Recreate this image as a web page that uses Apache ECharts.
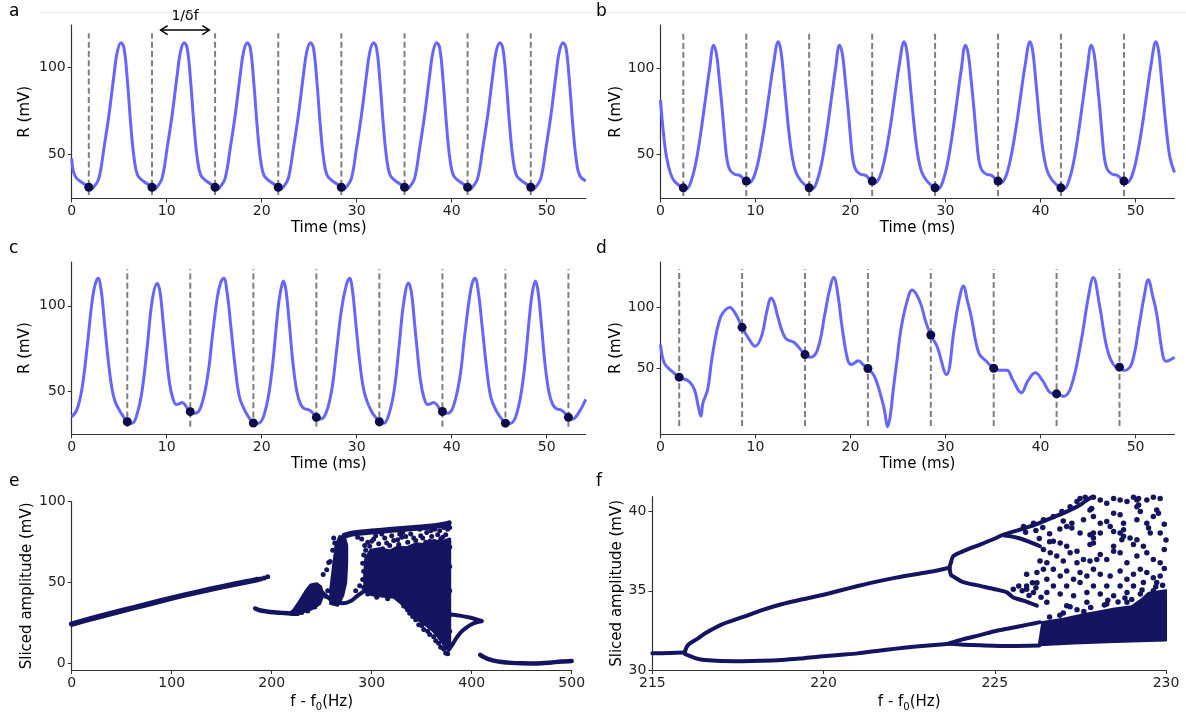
<!DOCTYPE html>
<html><head><meta charset="utf-8">
<script src="https://cdn.jsdelivr.net/npm/echarts@6/dist/echarts.min.js"></script>
<style>html,body{margin:0;padding:0;background:#fff}#c{width:1186px;height:713px}</style>
</head><body><div id="c"></div>
<script>
// ---------- tick labels ----------
const timeTicks = [0,10,20,30,40,50];
const rTicks = [50,100];
const eXTicks = [0,100,200,300,400,500];
const eYTicks = [0,50,100];
const fXTicks = [215,220,225,230];
const fYTicks = [30,35,40];

// ---------- panel a ----------
const aCurve = [[0,47.8],[0.18,40.2],[0.53,36.4],[1.24,33.5],
[1.80,31.3],[2.10,30.3],[2.35,31.6],[2.86,36.4],[3.39,53.5],[3.92,72.6],[4.45,95.4],[4.80,108.7],[5.19,113.9],[5.51,110.7],[5.87,91.6],[6.22,66.9],[6.57,47.8],[6.93,38.3],[7.46,35.1],[7.99,33.2],
[8.45,31.3],[8.75,30.3],[9.00,31.6],[9.51,36.4],[10.04,53.5],[10.57,72.6],[11.10,95.4],[11.45,108.7],[11.84,113.9],[12.16,110.7],[12.52,91.6],[12.87,66.9],[13.22,47.8],[13.58,38.3],[14.11,35.1],[14.64,33.2],
[15.09,31.3],[15.39,30.3],[15.64,31.6],[16.15,36.4],[16.68,53.5],[17.21,72.6],[17.74,95.4],[18.09,108.7],[18.48,113.9],[18.80,110.7],[19.16,91.6],[19.51,66.9],[19.86,47.8],[20.22,38.3],[20.75,35.1],[21.28,33.2],
[21.74,31.3],[22.04,30.3],[22.29,31.6],[22.80,36.4],[23.33,53.5],[23.86,72.6],[24.39,95.4],[24.74,108.7],[25.13,113.9],[25.45,110.7],[25.81,91.6],[26.16,66.9],[26.51,47.8],[26.87,38.3],[27.40,35.1],[27.93,33.2],
[28.38,31.3],[28.68,30.3],[28.93,31.6],[29.44,36.4],[29.97,53.5],[30.50,72.6],[31.03,95.4],[31.38,108.7],[31.77,113.9],[32.09,110.7],[32.45,91.6],[32.80,66.9],[33.15,47.8],[33.51,38.3],[34.04,35.1],[34.57,33.2],
[35.03,31.3],[35.33,30.3],[35.58,31.6],[36.09,36.4],[36.62,53.5],[37.15,72.6],[37.68,95.4],[38.03,108.7],[38.42,113.9],[38.74,110.7],[39.10,91.6],[39.45,66.9],[39.80,47.8],[40.16,38.3],[40.69,35.1],[41.22,33.2],
[41.67,31.3],[41.97,30.3],[42.22,31.6],[42.73,36.4],[43.26,53.5],[43.79,72.6],[44.32,95.4],[44.67,108.7],[45.06,113.9],[45.38,110.7],[45.74,91.6],[46.09,66.9],[46.44,47.8],[46.80,38.3],[47.33,35.1],[47.86,33.2],
[48.32,31.3],[48.62,30.3],[48.87,31.6],[49.38,36.4],[49.91,53.5],[50.44,72.6],[50.97,95.4],[51.32,108.7],[51.71,113.9],[52.03,110.7],[52.39,91.6],[52.74,66.9],[53.09,47.8],[53.45,38.3],[54.1,34.9]];
const aSliceTimes = [1.80,8.45,15.09,21.74,28.38,35.03,41.67,48.32];
const aSliceVals = [31.3,31.3,31.3,31.3,31.3,31.3,31.3,31.3];
const aDashRange = [26.9,119.3];
const aArrow = [[9.36,14.49,121.1,128.7]];

// ---------- panel b ----------
const bCurve = [[0,81.6],[0.28,64.1],[0.63,48.6],[1.05,39],[1.51,34.1],
[2.40,30.6],[2.75,30.2],[3.25,35],[3.75,46],[4.25,63],[4.75,83],[5.15,99],[5.60,113.5],[5.90,108],[6.20,93],[6.50,76],[6.75,60],[7.00,47],[7.30,41],[7.80,38.5],[8.30,38],[8.70,36],
[9.03,34.5],[9.33,33.6],[9.83,37],[10.33,47],[10.88,64],[11.43,85],[11.88,102],[12.40,115.5],[12.68,110],[12.98,94],[13.28,76],[13.58,60],[13.88,48],[14.23,40],[14.73,35],[15.18,32.5],
[15.65,30.6],[16.00,30.2],[16.50,35],[17.00,46],[17.50,63],[18.00,83],[18.40,99],[18.85,113.5],[19.15,108],[19.45,93],[19.75,76],[20.00,60],[20.25,47],[20.55,41],[21.05,38.5],[21.55,38],[21.95,36],
[22.28,34.5],[22.58,33.6],[23.08,37],[23.58,47],[24.13,64],[24.68,85],[25.13,102],[25.65,115.5],[25.93,110],[26.23,94],[26.53,76],[26.83,60],[27.13,48],[27.48,40],[27.98,35],[28.43,32.5],
[28.90,30.6],[29.25,30.2],[29.75,35],[30.25,46],[30.75,63],[31.25,83],[31.65,99],[32.10,113.5],[32.40,108],[32.70,93],[33.00,76],[33.25,60],[33.50,47],[33.80,41],[34.30,38.5],[34.80,38],[35.20,36],
[35.53,34.5],[35.83,33.6],[36.33,37],[36.83,47],[37.38,64],[37.93,85],[38.38,102],[38.90,115.5],[39.18,110],[39.48,94],[39.78,76],[40.08,60],[40.38,48],[40.73,40],[41.23,35],[41.68,32.5],
[42.15,30.6],[42.50,30.2],[43.00,35],[43.50,46],[44.00,63],[44.50,83],[44.90,99],[45.35,113.5],[45.65,108],[45.95,93],[46.25,76],[46.50,60],[46.75,47],[47.05,41],[47.55,38.5],[48.05,38],[48.45,36],
[48.78,34.5],[49.08,33.6],[49.58,37],[50.08,47],[50.63,64],[51.18,85],[51.63,102],[52.15,115.5],[52.43,110],[52.73,94],[53.03,76],[53.33,60],[53.63,48],[54.1,39.5]];
const bSliceTimes = [2.40,9.03,15.65,22.28,28.90,35.53,42.15,48.78];
const bSliceVals = [30.6,34.5,30.6,34.5,30.6,34.5,30.6,34.5];
const bDashRange = [25.8,120.3];

// ---------- panel c ----------
const cCurve = [[0,35.3],[0.53,39.2],[1.06,50.9],[1.59,74.2],[2.12,101.4],[2.45,112],[2.78,116],[3.1,109],[3.45,90],[3.85,68],[4.2,53],[4.55,44.5],[5.1,38.3],[5.5,35],
[5.85,32.4],[6.35,31.5],[6.9,37.3],[7.42,50.9],[7.95,76.1],[8.48,103.3],[9.0,113],[9.3,108],[9.6,92],[9.95,72],[10.3,55],[10.65,46],[11.0,42.5],[11.3,42.8],[11.6,43.6],[11.9,42.5],[12.2,40],
[12.48,38.3],[13.0,37.3],[13.6,41.1],[14.3,58.6],[14.8,82],[15.3,104],[15.65,113],[16.0,116],[16.35,108],[16.75,88],[17.2,64.5],[17.65,47],[18.2,39.2],[18.7,34.5],
[19.12,31.7],[19.6,31.4],[20.3,37.3],[21.0,58.6],[21.7,97.5],[22.0,109],[22.28,114.5],[22.55,109],[22.9,90],[23.3,66],[23.7,50],[24.1,42.5],[24.5,40],[24.9,39.5],[25.3,38],
[25.75,35],[26.2,34],[26.8,38],[27.4,52],[27.9,75],[28.4,98],[28.9,112],[29.25,116],[29.55,109],[29.9,90],[30.3,68],[30.7,52],[31.1,44],[31.6,38],[32.0,35],
[32.38,32.4],[32.85,31.5],[33.4,37],[33.95,51],[34.45,76],[34.95,102],[35.45,113.3],[35.75,108],[36.05,92],[36.4,72],[36.75,55],[37.1,46],[37.45,42.5],[37.75,42.8],[38.05,43.6],[38.4,42.5],[38.72,40],
[39.02,38.4],[39.55,37.3],[40.15,41],[40.85,58],[41.35,82],[41.85,104],[42.15,113],[42.45,116],[42.8,108],[43.2,88],[43.65,64.5],[44.1,47],[44.65,39.2],[45.2,34.5],
[45.65,31.6],[46.15,31.4],[46.85,37.3],[47.55,58.6],[48.25,97.5],[48.52,109],[48.8,114.5],[49.07,109],[49.42,90],[49.82,66],[50.22,50],[50.62,42.5],[51.02,40],[51.42,39.5],[51.82,38],
[52.28,35],[52.72,34],[53.4,38],[54.1,45.5]];
const cSliceTimes = [5.85,12.48,19.12,25.75,32.38,39.02,45.65,52.28];
const cSliceVals = [32.4,38.3,31.7,35,32.4,38.4,31.6,35];
const cDashRange = [29.5,121.3];

// ---------- panel d ----------
const dCurve = [[0,69.3],[0.4,54],[1.0,48.6],[1.97,42.3],[2.97,39],[3.57,32],[3.97,18.4],[4.25,10.1],[4.47,21.1],[4.96,32],[5.36,55],[5.76,74],[6.16,88],[6.56,95.5],[7.28,100],[7.95,94],
[8.59,83.6],[9.35,73.4],[9.95,67.9],[10.63,76.1],[11.2,97],[11.66,107.8],[12.0,103],[12.34,92.6],[13.14,74.8],[14.13,70.6],
[15.21,61],[15.73,58.8],[16.53,65.1],[17.32,95.4],[17.72,111.9],[18.24,124.8],[18.7,109],[19.1,84.4],[19.7,56.9],[20.12,52.8],[20.83,56],[21.31,52.8],
[21.83,49.5],[22.51,43.1],[23.3,23.9],[23.62,12.9],[23.9,1.3],[24.18,10.1],[24.5,32.1],[24.9,56.9],[25.3,81.6],[25.9,103.6],[26.5,114.6],[27.3,105],[27.9,88.5],
[28.45,77.2],[29.1,67.9],[30.1,44.5],[30.9,81.6],[31.36,103.6],[31.9,117.9],[32.28,106.4],[32.7,92.6],[33.5,62.4],[34.3,55.5],
[35.07,49.7],[35.67,48],[36.46,48],[37.06,40.4],[37.98,29.4],[38.65,39],[39.45,45.9],[40.25,39],[41.05,29.4],
[41.69,28.5],[42.45,26.6],[43.24,34.9],[44.24,70.6],[45.04,109],[45.55,124.8],[46.23,100.9],[47.03,65.1],[47.83,51.4],
[48.31,50.6],[48.82,47.8],[49.62,54.1],[50.42,87.1],[50.9,109],[51.34,122.9],[51.82,109],[52.21,95.4],[52.89,59.6],[53.2,55.5],[54.1,58.8]];
const dSliceTimes = [1.97,8.59,15.21,21.83,28.45,35.07,41.69,48.31];
const dSliceVals = [42.3,83.6,61,49.5,77.2,49.7,28.5,50.6];
const dDashRange = [1.8,132];

// ---------- panel e (bifurcation, full range) ----------
const eLinear = [[0,24.4],[25,28.6],[50,32.6],[75,36.5],[100,40.4],[125,44.0],[150,47.4],[175,50.5],[186,51.9]];
const eLow = [[183.5,34.0],[188,32.9],[195,32.2],[202,31.7],[210,31.3],[218,30.9],[226,30.7]];
const eBridge = [[249,45],[254,42],[259,39.5],[265,38],[272,37.3],[279,38.6],[285,41.5],[292,44.5]];
const eShelf = [[273,79],[280,80.3],[290,81],[300,81.6],[320,82.6],[340,83.6],[360,84.7],[376,86.3]];
const eLoopUp = [[378,30.5],[388,29.6],[398,28.4],[405,27.2],[410,26.3]];
const eLoopLow = [[377,8.5],[381,12],[385,16],[390,19.8],[395,22.4],[400,24.3],[405,25.5],[410,26.1]];
const eTail = [[408.5,5.4],[412,4.0],[416,2.9],[422,1.8],[430,1.0],[440,0.4],[450,0.1],[460,0.0],[470,0.2],[480,0.7],[490,1.2],[500,1.5]];
const eBlobs = [
 [[218,31],[228,31.2],[240,33.8],[248,37],[251,42],[249,47.5],[245,49.3],[239,48.5],[234,44.5],[227,37.5],[222,33]],
 [[259,37],[266,36],[271,42],[274,50],[275,62],[275,73],[273,77.5],[268,78.5],[265,74],[263,66],[261,56],[259,46]],
 [[293,45],[300,42.5],[312,41.5],[322,41],[330,37],[336,33],[342,29.5],[348,26.5],[355,23.5],[361,20.5],[366,17],[371,13],[374,9.5],[378,9],[378,77],[370,75],[362,76],[352,73.5],[344,74],[335,71.5],[326,72],[318,69.5],[308,71],[299,70],[294,65],[293,55]]
];
const ePoints = [[189,52.3],[192.5,52.9],[196,53.6],
[294,70],[296,75],[298,72.5],[302,77],[305,69],[307,74],[311,71],[313,77.5],[316,68],[318,73],[322,76],[324,70],[327,73.5],[330,78],[333,69],[336,75],[338,71],[342,77.5],[344,68],[346,73],[349,79],[352,70],[354,75],[357,72],[360,78.5],[362,68],[365,74],[367,70.5],[369,77],[372,72.5],[374,79.5],[376,69],[377,75],[339,80],[355,81],[368,82],[331,81],[310,80],[376,83],[363,83],[320,79],[348,83],
[300,75.5],[315,74.5],[326,76.5],[334,78.5],[344,76],[351,77.5],[358,75.5],[366,79.5],[371,78],[304,79],[328,80],[359,82],[372,84],
[292,47],[291,52],[292,57],[291,62],[292,67],[293,73],[290,77],[286,78],
[255,58],[257,62.5],[251.5,55],[261,70],[263,74.5],[265,72],[256,45],[254,41.5],[258.5,63],[262,77.5],
[333,37],[336,33],[341,29],[347,24],[352,21],[358,18],[364,14],[369,10],[374,6.5],[326,42],[330,40],[370,20],[366,24],[372,29],
[329,39],[332,35.5],[338,31],[344,27],[350,23.5],[356,20],[362,16.5],[367,12.5],[372,9],[376,6],[360,25],[368,30],[364,33],
[378,12],[378,20],[378,30],[378,45],[378,60],[378,72],[378,84],[377.5,87],
[230,31.5],[236,32.5],[243,35],[246,44],[242,47.5],[233,40],[228,34],[238,46],
[270,46],[268,52],[284,45],[288,48],[296,43],[305,41],[316,40]];

// ---------- panel f (bifurcation, zoom) ----------
const fSingle = [[215,31.05],[215.5,31.07],[215.95,31.1]];
const fUpper = [[215.95,31.15],[216.03,31.56],[216.3,31.95],[216.53,32.3],[217.0,32.85],[217.65,33.35],[218.2,33.78],[218.77,34.15],[219.3,34.42],[219.89,34.7],[220.45,35.0],[221.0,35.3],[221.55,35.58],[222.12,35.83],[222.7,36.05],[223.24,36.25],[223.68,36.45]];
const fLower = [[215.95,31.0],[216.03,30.94],[216.3,30.72],[216.53,30.63],[217.0,30.57],[217.65,30.56],[218.2,30.58],[218.77,30.63],[219.3,30.72],[219.89,30.85],[220.45,30.95],[221.0,31.05],[221.55,31.2],[222.12,31.35],[222.7,31.48],[223.24,31.58],[223.68,31.66]];
const fUpUp = [[223.68,36.5],[223.72,36.8],[223.79,37.19],[224.08,37.5],[224.57,37.92],[225.0,38.3],[225.25,38.54],[225.74,38.86],[226.03,39.06],[226.52,39.48],[227.0,39.9],[227.49,40.42],[227.69,40.73],[227.85,40.94]];
const fUpFunnel = [[225.25,38.5],[225.74,38.3],[226.32,37.81]];
const fUpLow = [[223.68,36.4],[223.72,36.0],[223.79,35.9],[224.08,35.55],[224.57,35.31],[225.0,35.1],[225.35,34.9],[225.54,34.58],[225.84,34.38],[226.23,34.06]];
const fLowLow = [[223.68,31.66],[224.08,31.6],[224.57,31.56],[225.47,31.52],[226.3,31.55]];
const fLowUp = [[223.68,31.7],[224.08,31.95],[224.57,32.2],[225.0,32.45],[225.47,32.65],[226.0,32.88],[226.32,33.02]];
const fBand = [[[226.3,31.6],[226.4,33.0],[227.0,33.2],[227.5,33.45],[228.0,33.65],[228.5,33.85],[229.0,34.0],[229.3,34.45],[229.5,34.85],[230,35.0],[230,31.9],[228.5,31.8],[227.3,31.7]]];
const fPoints = [
[227.49,40.83],[227.64,40.9],[227.88,40.9],[228.08,40.73],[228.27,40.52],[228.47,40.83],[228.66,40.73],[228.86,40.63],[229.05,40.9],[229.2,40.83],[229.2,40.42],[229.25,40.0],[229.44,40.73],[229.63,40.9],[229.83,40.83],[229.78,39.9],[229.63,39.69],[229.73,40.1],
[227.78,40.1],[227.88,39.69],[227.59,39.48],[228.08,39.27],[228.27,39.38],[228.47,39.9],[228.66,39.8],[228.76,39.27],[229.15,39.48],[229.44,39.27],[228.37,39.06],
[227.1,39.06],[227.25,38.96],[227.49,38.65],[227.78,38.54],[227.88,38.33],[228.08,38.65],[228.47,38.75],[228.66,38.65],[228.71,38.23],[228.95,38.33],[229.15,38.23],[229.49,38.96],[229.54,38.65],[229.83,38.65],[226.71,38.13],[226.91,38.02],[227.1,37.81],[227.78,37.92],[228.47,37.81],[229.05,37.92],[229.34,37.81],
[226.42,37.6],[226.62,37.4],[226.81,37.19],[227.2,37.4],[227.4,37.5],[227.59,36.98],[227.98,36.98],[228.08,37.29],[228.27,36.98],[228.47,37.5],[228.66,37.4],[228.86,36.77],[229.15,37.19],[229.44,37.4],[229.63,36.98],[229.83,36.77],[226.32,36.88],[226.52,36.77],[227.0,36.88],[227.4,36.77],[227.78,36.88],
[225.93,36.04],[226.23,36.15],[226.42,36.36],[226.71,36.36],[226.91,35.94],[227.1,36.25],[227.3,35.73],[227.49,36.15],[227.69,35.94],[227.88,36.36],[228.08,36.04],[228.37,35.94],[228.66,36.25],[228.86,35.73],[229.05,36.04],[229.25,36.36],[229.44,36.15],[229.63,35.83],[229.83,35.94],
[226.52,35.73],[226.71,35.31],[227.1,35.31],[227.49,35.52],[227.88,35.31],[228.27,35.31],[228.66,35.31],[229.05,35.31],[229.34,35.52],[229.73,35.52],
[225.93,35.1],[226.13,34.9],[226.52,34.9],[226.91,34.79],[227.3,34.69],[227.69,34.9],[228.08,34.79],[228.47,34.69],[228.86,34.9],[229.25,34.79],[229.63,35.0],
[226.52,34.27],[227.1,34.06],[227.69,34.27],[228.27,34.17],[228.86,34.27],[229.44,34.38],
[229.15,40.73],[229.15,40.31],[227.88,38.65],[227.88,38.02],[227.25,39.27],[228.76,38.86],[228.76,38.44],[227.83,40.2],
[225.84,39.06],[226.13,39.27],[226.42,39.48],[226.71,39.69],[226.96,40.0],[227.2,40.31],[227.4,40.63],
[225.9,38.7],[226.2,38.8],[226.4,39.0],[226.6,38.6],[226.9,38.9],[227.0,39.4],[226.3,38.3],[226.6,38.1],
[225.8,35.0],[226.0,34.7],[226.2,35.2],[226.35,34.6],[226.1,35.5],[225.7,35.3],[225.54,35.1],[225.93,35.31],[226.23,35.5],
[229.95,39.2],[229.95,37.6],[229.95,36.4],[230.0,38.2],
[226.6,33.35],[227.0,33.6],[227.4,33.8],[227.8,33.95],[228.2,34.1],[228.6,34.3],[229.0,34.45],[229.3,35.05],[228.8,34.55],[227.6,33.7],[226.9,33.45],[229.7,35.25],[229.9,35.35],[226.45,32.5],[226.5,32.0],[228.3,34.4],[227.2,34.0],[229.55,34.2],[229.8,34.7]];

// ---------- styling constants ----------
const FONT = 'DejaVu Sans';
const CURVE = '#6666ff';
const NAVY = '#141460';
const AX = '#333333';

const grids = [
  {left:71.7, top:25, width:514, height:173.5},
  {left:660.5, top:25, width:514, height:173.5},
  {left:71.7, top:262, width:514, height:172.3},
  {left:660.5, top:262, width:514, height:172.3},
  {left:71.7, top:501.7, width:500, height:169},
  {left:652.4, top:496.7, width:513.6, height:173.3}
];

function xAxisCfg(i, min, max, ticks, name, gap) {
  return {gridIndex:i, type:'value', min:min, max:max, name:name, nameLocation:'middle', nameGap:gap,
    nameTextStyle:{fontSize:15, color:'#000', fontFamily:FONT, rich:{n:{fontSize:15,fontFamily:FONT,color:'#000'}, s:{fontSize:10,fontFamily:FONT,color:'#000',padding:[9,0,0,0]}}},
    axisLine:{show:true, onZero:false, lineStyle:{color:AX, width:1.2}},
    axisTick:{show:true, length:4, inside:false, customValues:ticks, lineStyle:{color:AX, width:1}},
    axisLabel:{customValues:ticks, fontSize:14, color:'#222', margin:6, fontFamily:FONT},
    splitLine:{show:false}};
}
function yAxisCfg(i, min, max, ticks, name, gap) {
  return {gridIndex:i, type:'value', min:min, max:max, name:name, nameLocation:'middle', nameGap:gap,
    nameTextStyle:{fontSize:15, color:'#000', fontFamily:FONT},
    axisLine:{show:true, onZero:false, lineStyle:{color:AX, width:1.2}},
    axisTick:{show:true, length:4, inside:false, customValues:ticks, lineStyle:{color:AX, width:1}},
    axisLabel:{customValues:ticks, fontSize:14, color:'#222', margin:6, fontFamily:FONT},
    splitLine:{show:false}};
}

function curveSeries(i, data) {
  return {type:'line', xAxisIndex:i, yAxisIndex:i, data:data, smooth:0.4, showSymbol:false, symbol:'none',
    lineStyle:{color:CURVE, width:3}, z:3, silent:true, clip:true};
}
function dashSeries(i, times, range) {
  return {type:'custom', xAxisIndex:i, yAxisIndex:i, silent:true, z:2, clip:false,
    data: times.map(t => [t, range[0], range[1]]), encode:{x:0, y:[1,2]},
    renderItem:(params, api) => {
      const p1 = api.coord([api.value(0), api.value(1)]);
      const p2 = api.coord([api.value(0), api.value(2)]);
      return {type:'line', shape:{x1:p1[0], y1:p1[1], x2:p2[0], y2:p2[1]},
        style:{stroke:'#7f7f7f', lineWidth:2, lineDash:[6,3.2]}};
    }};
}
function dotSeries(i, times, vals) {
  return {type:'scatter', xAxisIndex:i, yAxisIndex:i, data: times.map((t,k) => [t, vals[k]]),
    symbol:'circle', symbolSize:9, itemStyle:{color:'#0c0c4a', opacity:1}, z:5, silent:true};
}
function branchSeries(i, data, w) {
  return {type:'line', xAxisIndex:i, yAxisIndex:i, data:data, smooth:0.3, showSymbol:false, symbol:'none',
    lineStyle:{color:NAVY, width:w, cap:'round', join:'round'}, z:3, silent:true, clip:true};
}
function blobSeries(i, polys) {
  return {type:'custom', xAxisIndex:i, yAxisIndex:i, silent:true, z:3, clip:true,
    data: polys.map(p => p[0]), encode:{x:0, y:1},
    renderItem:(params, api) => ({type:'polygon',
      shape:{points: polys[params.dataIndex].map(v => api.coord(v))},
      style:{fill:NAVY, stroke:NAVY, lineWidth:3, lineJoin:'round'}})};
}
function pointSeries(i, data, size) {
  return {type:'scatter', xAxisIndex:i, yAxisIndex:i, data:data, symbol:'circle', symbolSize:size,
    itemStyle:{color:NAVY, opacity:1}, z:4, silent:true, clip:true};
}

const arrowSeries = {type:'custom', xAxisIndex:0, yAxisIndex:0, silent:true, z:6, clip:false,
  data: aArrow, encode:{x:[0,1], y:[2,3]},
  renderItem:(params, api) => {
    const p1 = api.coord([api.value(0), api.value(2)]);
    const p2 = api.coord([api.value(1), api.value(2)]);
    const pt = api.coord([(api.value(0)+api.value(1))/2, api.value(3)]);
    const h = 7, w = 4.5;
    return {type:'group', children:[
      {type:'line', shape:{x1:p1[0], y1:p1[1], x2:p2[0], y2:p2[1]}, style:{stroke:'#000', lineWidth:1.5}},
      {type:'polyline', shape:{points:[[p1[0]+h,p1[1]-w],[p1[0],p1[1]],[p1[0]+h,p1[1]+w]]}, style:{stroke:'#000', lineWidth:1.5, fill:null}},
      {type:'polyline', shape:{points:[[p2[0]-h,p2[1]-w],[p2[0],p2[1]],[p2[0]-h,p2[1]+w]]}, style:{stroke:'#000', lineWidth:1.5, fill:null}},
      {type:'text', x:pt[0], y:pt[1], style:{text:'1/δf', fontSize:14, fontFamily:FONT, fill:'#000', align:'center', verticalAlign:'middle'}}
    ]};
  }};

const fName = '{n|f - f}{s|0}{n|(Hz)}';

const option = {
  animation:false,
  backgroundColor:'#ffffff',
  grid: grids,
  xAxis: [
    xAxisCfg(0, 0, 54.1, timeTicks, 'Time (ms)', 22),
    xAxisCfg(1, 0, 54.1, timeTicks, 'Time (ms)', 22),
    xAxisCfg(2, 0, 54.1, timeTicks, 'Time (ms)', 22),
    xAxisCfg(3, 0, 54.1, timeTicks, 'Time (ms)', 22),
    xAxisCfg(4, 0, 500, eXTicks, fName, 23),
    xAxisCfg(5, 215, 230, fXTicks, fName, 23)
  ],
  yAxis: [
    yAxisCfg(0, 24.9, 124, rTicks, 'R (mV)', 39),
    yAxisCfg(1, 24.4, 125.2, rTicks, 'R (mV)', 37),
    yAxisCfg(2, 25.1, 125.5, rTicks, 'R (mV)', 39),
    yAxisCfg(3, -5, 137.7, rTicks, 'R (mV)', 37),
    yAxisCfg(4, -4, 100, eYTicks, 'Sliced amplitude (mV)', 33),
    yAxisCfg(5, 30, 40.94, fYTicks, 'Sliced amplitude (mV)', 24)
  ],
  graphic: [
    {type:'line', shape:{x1:40, y1:12.5, x2:1186, y2:12.5}, style:{stroke:'#efefef', lineWidth:1}, silent:true},
    {type:'text', left:9, top:3, style:{text:'a', fontSize:17, fontFamily:FONT, fill:'#000'}},
    {type:'text', left:596, top:3, style:{text:'b', fontSize:17, fontFamily:FONT, fill:'#000'}},
    {type:'text', left:9, top:240, style:{text:'c', fontSize:17, fontFamily:FONT, fill:'#000'}},
    {type:'text', left:596, top:240, style:{text:'d', fontSize:17, fontFamily:FONT, fill:'#000'}},
    {type:'text', left:9, top:473, style:{text:'e', fontSize:17, fontFamily:FONT, fill:'#000'}},
    {type:'text', left:596, top:473, style:{text:'f', fontSize:17, fontFamily:FONT, fill:'#000'}}
  ],
  series: [
    dashSeries(0, aSliceTimes, aDashRange), curveSeries(0, aCurve), dotSeries(0, aSliceTimes, aSliceVals), arrowSeries,
    dashSeries(1, bSliceTimes, bDashRange), curveSeries(1, bCurve), dotSeries(1, bSliceTimes, bSliceVals),
    dashSeries(2, cSliceTimes, cDashRange), curveSeries(2, cCurve), dotSeries(2, cSliceTimes, cSliceVals),
    dashSeries(3, dSliceTimes, dDashRange), curveSeries(3, dCurve), dotSeries(3, dSliceTimes, dSliceVals),
    branchSeries(4, eLinear, 5.5), branchSeries(4, eLow, 4.5), branchSeries(4, eBridge, 4), branchSeries(4, eShelf, 6),
    branchSeries(4, eLoopUp, 4), branchSeries(4, eLoopLow, 4), branchSeries(4, eTail, 4.5),
    blobSeries(4, eBlobs), pointSeries(4, ePoints, 5),
    branchSeries(5, fSingle, 4), branchSeries(5, fUpper, 4), branchSeries(5, fLower, 4),
    branchSeries(5, fUpUp, 4), branchSeries(5, fUpFunnel, 4), branchSeries(5, fUpLow, 4),
    branchSeries(5, fLowLow, 4), branchSeries(5, fLowUp, 4),
    blobSeries(5, fBand), pointSeries(5, fPoints, 5.5)
  ]
};
const chart = echarts.init(document.getElementById('c'), null, {renderer:'canvas'});
chart.setOption(option);
</script>
</body></html>
